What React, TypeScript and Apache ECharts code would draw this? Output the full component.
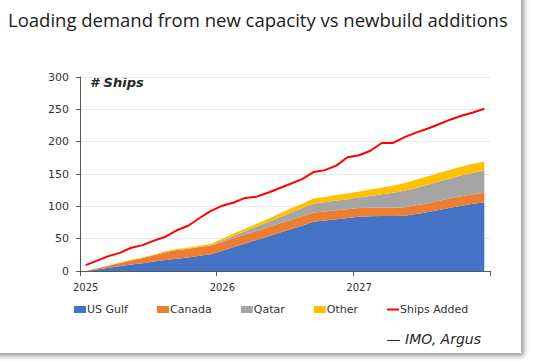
import React, { useEffect, useRef } from "react";
import * as echarts from "echarts";

const years = ["2025", "2026", "2027"];
const months = ["01", "02", "03", "04", "05", "06", "07", "08", "09", "10", "11", "12"];
const categories = years.flatMap((y) => months.map((m) => `${y}-${m}`));

const usGulf = [0, 2.5, 5, 7.5, 10, 12, 14.5, 17, 19, 21, 23.5, 26, 31.5, 37, 42.5, 48, 53.5, 59, 64.5, 70, 76, 78, 80, 82, 84, 84.5, 85, 85, 85.5, 88, 91, 94.5, 98, 101, 104, 106];
const canada = [0, 1.5, 3, 5, 6.5, 8, 10, 12, 13.5, 13.5, 13.5, 13.5, 13.5, 14, 14, 14, 14, 14.5, 14.5, 14.5, 14.5, 14, 14, 13.5, 13.5, 13.5, 13, 13, 13, 13.5, 13.5, 14, 14, 14.5, 14.5, 15];
const qatar = [0, 0, 0, 0, 0, 0, 0, 0, 0, 0, 0, 0.5, 2, 3.5, 5, 6.5, 8, 9.5, 11, 12.5, 14, 14.5, 15, 15.5, 16, 18, 20.5, 23, 25.5, 27, 28.5, 30, 31, 32.5, 33.5, 34.5];
const other = [0, 0.3, 0.5, 0.8, 1, 1, 1.2, 1.5, 1.5, 1.5, 2, 2, 3, 3.5, 4, 4.5, 5, 6, 6.5, 7, 7.5, 8, 8.5, 9, 9.5, 10, 10.5, 11, 12, 12.5, 13, 13, 13.5, 13.5, 14, 14];
const shipsAdded = [9, 16, 23, 28, 36, 40, 47, 53, 63, 70, 82, 93, 101, 106, 113, 115, 121, 128, 135, 142, 153, 156, 163, 176, 179, 186, 198, 198, 207, 214, 220, 227, 234, 240, 245, 251];

const yTicks = [0, 50, 100, 150, 200, 250, 300];

const areaNames = ["US Gulf", "Canada", "Qatar", "Other"];
const areaData = [usGulf, canada, qatar, other];
const areaColors = ["#4472C4", "#ED7D31", "#A5A5A5", "#FFC000"];

const lineIcon = "path://M0,0 L12,0 L12,0.01 L0,0.01 Z M0,2.5 L12,2.5 L12,4.5 L0,4.5 Z M0,7 L12,7 L12,6.99 L0,6.99 Z";

export default function App() {
  const ref = useRef<HTMLDivElement>(null);

  useEffect(() => {
    if (!ref.current) return;
    const chart = echarts.init(ref.current, null, { renderer: "svg" });
    const axisColor = "#595959";
    const font = "DejaVu Sans";
    chart.setOption({
      animation: false,
      title: {
        text: "Loading demand from new capacity vs newbuild additions",
        left: 3,
        top: 5,
        textStyle: { fontFamily: "Open Sans", fontSize: 18.5, fontWeight: "normal", color: "#1a1a1a" },
      },
      grid: { left: 80, right: 44, top: 77, bottom: 90, containLabel: false },
      legend: {
        left: 69,
        top: 299,
        itemWidth: 12,
        itemHeight: 7,
        itemGap: 29,
        textStyle: { fontFamily: font, fontSize: 11, color: "#333333", padding: [0, 0, 0, -4] },
        data: [
          ...areaNames.map((n) => ({ name: n, icon: "rect" })),
          { name: "Ships Added", icon: lineIcon, itemStyle: { color: "#FF0000" } },
        ],
      },
      xAxis: {
        type: "category",
        data: categories,
        boundaryGap: true,
        axisLine: { lineStyle: { color: axisColor, width: 1 } },
        axisTick: { show: true, interval: 11, length: 5, lineStyle: { color: axisColor } },
        axisLabel: {
          interval: 11,
          margin: 11,
          fontFamily: font,
          fontSize: 10,
          color: "#333333",
          formatter: (v: string) => v.slice(0, 4),
        },
        splitLine: { show: false },
      },
      yAxis: {
        type: "value",
        min: yTicks[0],
        max: yTicks[yTicks.length - 1],
        interval: 50,
        axisLine: { show: true, lineStyle: { color: axisColor, width: 1 } },
        axisTick: { show: true, length: 4, lineStyle: { color: axisColor } },
        axisLabel: { margin: 11, fontFamily: font, fontSize: 11, color: "#333333" },
        splitLine: { show: true, lineStyle: { color: "#e8e8e8", width: 1 } },
      },
      series: [
        ...areaNames.map((n, i) => ({
          name: n,
          type: "line",
          stack: "total",
          data: areaData[i],
          symbol: "none",
          lineStyle: { width: 0 },
          areaStyle: { color: areaColors[i], opacity: 1 },
          itemStyle: { color: areaColors[i] },
          z: 2,
        })),
        {
          name: "Ships Added",
          type: "line",
          data: shipsAdded,
          symbol: "none",
          lineStyle: { width: 2, color: "#FF0000" },
          itemStyle: { color: "#FF0000" },
          z: 3,
        },
      ],
      graphic: [
        {
          type: "text",
          x: 90,
          y: 82,
          style: {
            text: "# Ships",
            fontFamily: font,
            fontSize: 13,
            fontStyle: "italic",
            fontWeight: "bold",
            fill: "#262626",
            verticalAlign: "middle",
          },
        },
        {
          type: "text",
          x: 481,
          y: 339,
          style: {
            text: "— IMO, Argus",
            fontFamily: font,
            fontSize: 14,
            fontStyle: "italic",
            fill: "#262626",
            align: "right",
            verticalAlign: "middle",
          },
        },
      ],
    });
    return () => chart.dispose();
  }, []);

  return (
    <div style={{ position: "fixed", left: 0, top: 0, width: 534, height: 361, background: "#ffffff", overflow: "hidden" }}>
      <div
        style={{
          position: "absolute",
          left: -20,
          top: -20,
          width: 541,
          height: 373,
          background: "#ffffff",
          boxShadow: "2px 2px 5px 1px rgba(0,0,0,0.4)",
        }}
      />
      <div ref={ref} style={{ position: "absolute", left: 0, top: 0, width: 534, height: 361 }} />
    </div>
  );
}
